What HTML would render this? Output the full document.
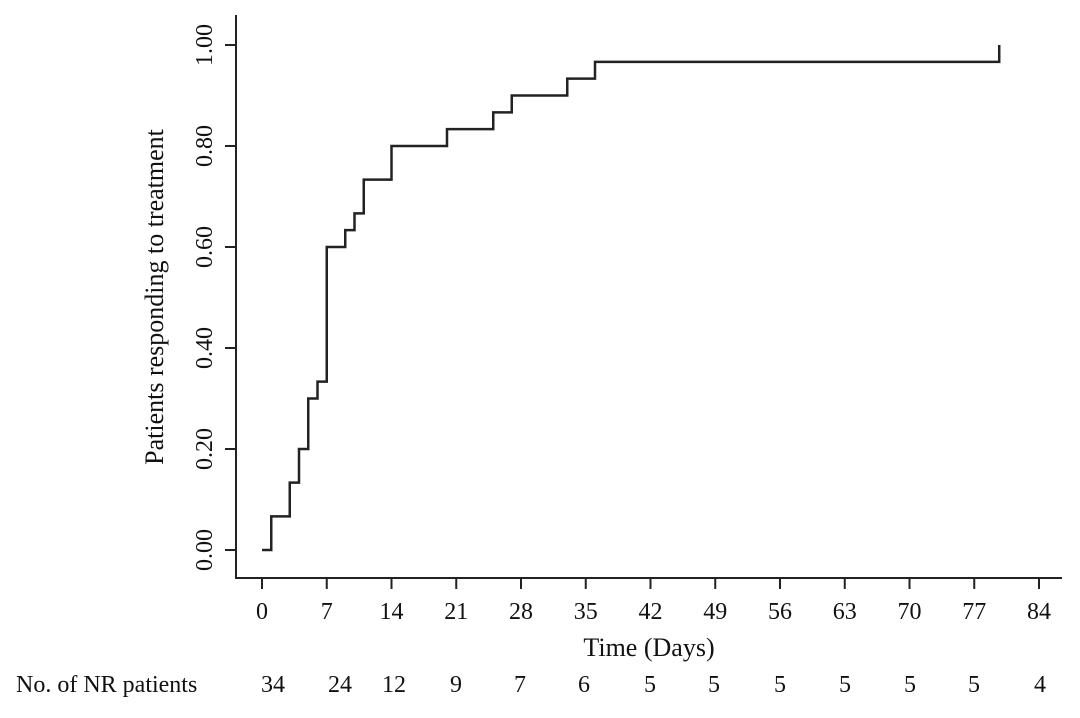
<!DOCTYPE html>
<html><head><meta charset="utf-8"><style>
body{margin:0;background:#fff;}
svg text{font-family:"Liberation Serif",serif;fill:#111;}
</style></head><body>
<svg width="1080" height="713" viewBox="0 0 1080 713">
<g id="axes"></g>
<path id="curve" fill="none" stroke="#222" stroke-width="2.5"></path>
<text x="163" y="297" font-size="26" text-anchor="middle" transform="rotate(-90 163 297)">Patients responding to treatment</text>
<text x="649" y="656" font-size="26" text-anchor="middle">Time (Days)</text>
<text x="16" y="692" font-size="24">No. of  NR patients</text>
<g id="risk"></g>
</svg>
<script>
const stepDays=[0,1,3,4,5,6,7,9,10,11,14,20,25,27,33,36,79.7];
const stepValues=[0,0.0667,0.1333,0.2,0.3,0.3333,0.6,0.6333,0.6667,0.7333,0.8,0.8333,0.8667,0.9,0.9333,0.9667,1.0];
const xTicks=[0,7,14,21,28,35,42,49,56,63,70,77,84];
const yTicks=[0,0.2,0.4,0.6,0.8,1.0];
const riskCounts=[34,24,12,9,7,6,5,5,5,5,5,5,4];
const riskX=[273,340,394,456,520,584,650,714,780,845,910,974,1040];
const NS="http://www.w3.org/2000/svg";
const X=d=>262+d*(777/84);
const Y=v=>550-v*505;
const axes=document.getElementById('axes');
function mk(tag,attrs,parent){const e=document.createElementNS(NS,tag);for(const k in attrs)e.setAttribute(k,attrs[k]);parent.appendChild(e);return e;}
let a=mk('path',{d:'M236 15 V578 H1062',fill:'none',stroke:'#222','stroke-width':2},axes);


xTicks.forEach(t=>{
 const l=mk('line',{x1:X(t),x2:X(t),y1:578,y2:589,stroke:'#222','stroke-width':2},axes);
 
 
 const tx=mk('text',{x:X(t),y:619,'font-size':24,'text-anchor':'middle'},axes);
 tx.textContent=t;
 
 
});
yTicks.forEach(t=>{
 const l=mk('line',{x1:225,x2:236,y1:Y(t),y2:Y(t),stroke:'#222','stroke-width':2},axes);
 
 
 const tx=mk('text',{x:212,y:Y(t),'font-size':24,'text-anchor':'middle',transform:`rotate(-90 212 ${Y(t)})`},axes);
 tx.textContent=t.toFixed(2);
 
 
});
let d=`M${X(stepDays[0])} ${Y(stepValues[0])}`;
for(let i=1;i<stepDays.length;i++){d+=` H${X(stepDays[i])} V${Y(stepValues[i])}`;}
document.getElementById('curve').setAttribute('d',d);
const risk=document.getElementById('risk');
riskCounts.forEach((c,i)=>{
 const tx=mk('text',{x:riskX[i],y:692,'font-size':24,'text-anchor':'middle'},risk);
 tx.textContent=c;
 
 
});
</script>
</body></html>
